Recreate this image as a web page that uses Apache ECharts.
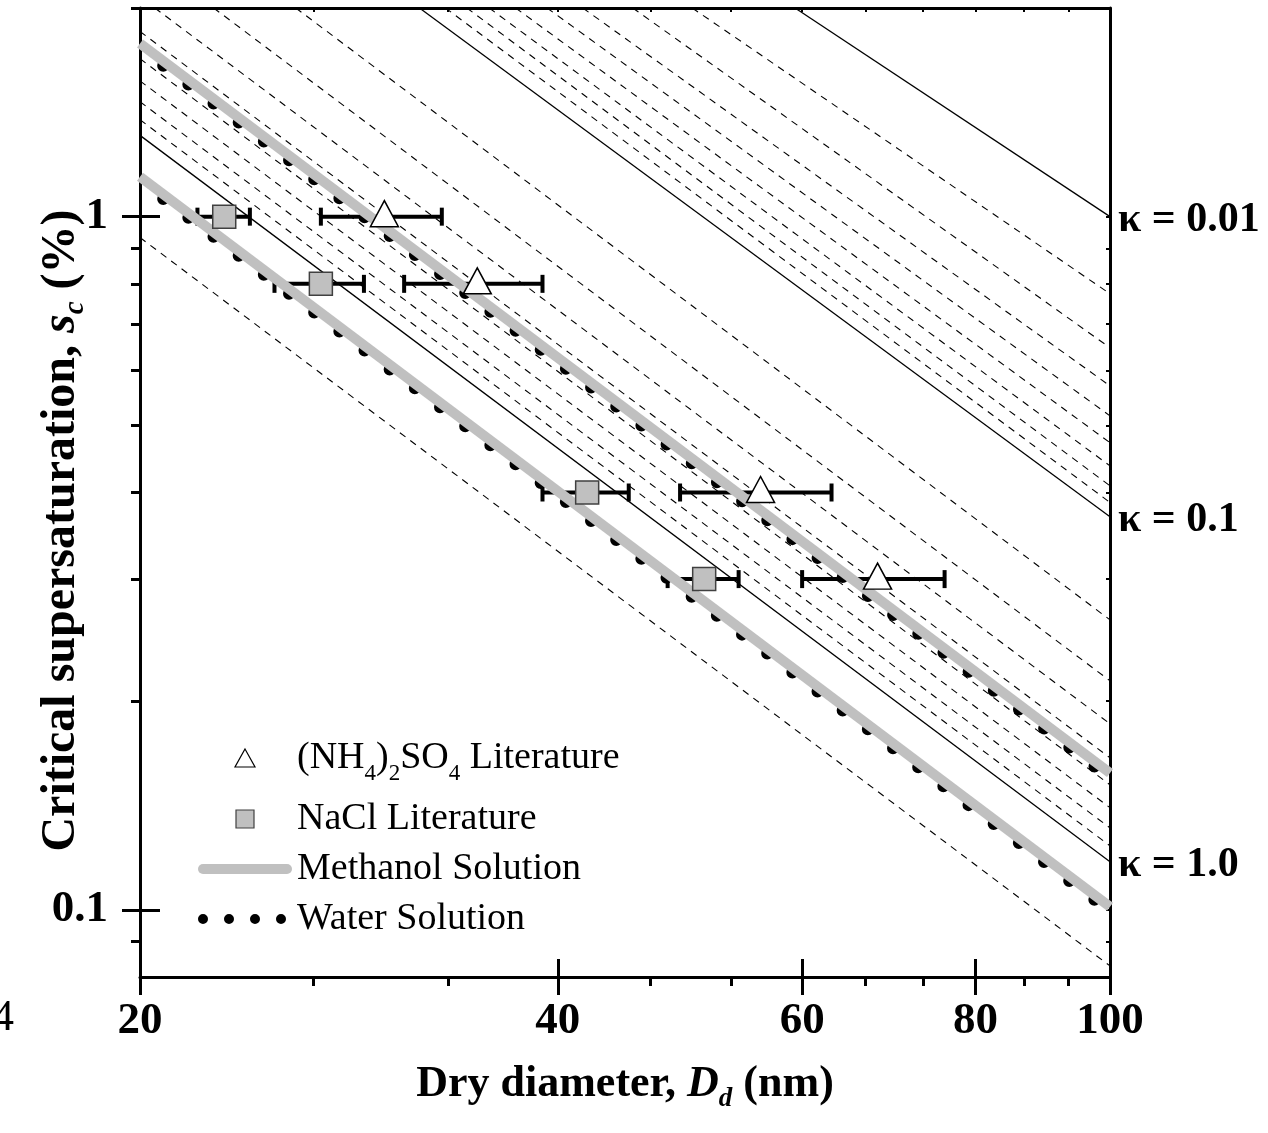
<!DOCTYPE html>
<html>
<head>
<meta charset="utf-8">
<script src="https://cdn.jsdelivr.net/npm/echarts@6/dist/echarts.min.js"></script>
<style>
html,body{margin:0;padding:0;background:#fff;}
#chart{width:1268px;height:1133px;}
</style>
</head>
<body>
<div id="chart"></div>
<script>
// ---------------- data ----------------
const xMajorTicks = [20, 40, 60, 80, 100];
const xMinorTicks = [26.67, 33.33, 46.67, 53.33, 66.67, 73.33, 86.67, 93.33];
const yMajorTicks = [0.1, 1];
const yMinorTicks = [0.09, 0.2, 0.3, 0.4, 0.5, 0.6, 0.7, 0.8, 0.9, 2];

// kappa iso-lines: entry point (top or left edge) and end point (D = 100 nm)
const kappaLabels = ['0.01','0.02','0.03','0.04','0.05','0.06','0.07','0.08','0.09','0.1',
                     '0.2','0.3','0.4','0.5','0.6','0.7','0.8','0.9','1.0','2.0'];
const kappaSolid  = [true,false,false,false,false,false,false,false,false,true,
                     false,false,false,false,false,false,false,false,true,false];
const kappaStartD = [59.3, 50.0, 45.3, 41.7, 39.3, 37.3, 35.7, 34.4, 33.2, 31.8,
                     25.9, 22.6, 20.5, 20, 20, 20, 20, 20, 20, 20];
const kappaStartS = [2, 2, 2, 2, 2, 2, 2, 2, 2, 2,
                     2, 2, 2, 1.85, 1.69, 1.57, 1.465, 1.38, 1.31, 0.933];
const kappaEndD   = [100, 100, 100, 100, 100, 100, 100, 100, 100, 100,
                     100, 100, 100, 100, 100, 100, 100, 100, 100, 100];
const kappaEndS   = [1.0, 0.774, 0.647, 0.570, 0.516, 0.472, 0.437, 0.409, 0.387, 0.369,
                     0.262, 0.214, 0.1855, 0.1657, 0.1515, 0.1404, 0.1313, 0.1237, 0.1173, 0.083];

// solution curves (upper: (NH4)2SO4 , lower: NaCl)
const solD = [20, 100];
const methanolUpperS = [1.777, 0.1576];
const methanolLowerS = [1.142, 0.101];
const waterUpperS    = [1.750, 0.1549];
const waterLowerS    = [1.124, 0.0994];

// literature points
const nh4D   = [30, 35, 56, 68];
const nh4S   = [1.0, 0.8, 0.4, 0.3];
const nh4Err = [3, 4, 7, 8];
const naclD   = [23, 27, 42, 51];
const naclS   = [1.0, 0.8, 0.4, 0.3];
const naclErr = [1, 2, 3, 3];

const nh4Name = '(NH4)2SO4 Literature';
const naclName = 'NaCl Literature';
const methName = 'Methanol Solution';
const waterName = 'Water Solution';

// ---------------- chart ----------------
const FONT = "'Liberation Serif','Times New Roman',serif";
const chart = echarts.init(document.getElementById('chart'), null, {renderer: 'canvas', width: 1268, height: 1133});

function fmt(list) {
  return function (v) {
    let x = v;
    if (list.indexOf(x) < 0) x = +Math.pow(10, v).toPrecision(6);
    return String(x);
  };
}

function baseX(extra) {
  return Object.assign({
    type: 'log', logBase: 10, min: 20, max: 100, gridIndex: 0, silent: true,
    splitLine: {show: false}, minorTick: {show: false},
    axisLine: {show: false, onZero: false},
    axisLabel: {show: false}, axisTick: {show: false}
  }, extra);
}
function baseY(extra) {
  return Object.assign({
    type: 'log', logBase: 10, min: 0.08, max: 2, gridIndex: 0, silent: true,
    splitLine: {show: false}, minorTick: {show: false},
    axisLine: {show: false, onZero: false},
    axisLabel: {show: false}, axisTick: {show: false}
  }, extra);
}
const tickStyle = {color: '#000', width: 3};
const thinTick = {color: '#000', width: 2};

const subStyle = function (size, pad) {
  return {fontFamily: FONT, fontWeight: 'bold', fontStyle: 'italic', fontSize: size, color: '#000', lineHeight: 8, padding: [pad, 0, 0, 0]};
};

const xAxes = [
  baseX({
    position: 'bottom',
    axisLine: {show: true, onZero: false, lineStyle: {color: '#000', width: 3}},
    axisTick: {show: true, customValues: xMajorTicks, length: 18, lineStyle: tickStyle},
    axisLabel: {show: true, customValues: xMajorTicks, formatter: fmt(xMajorTicks), margin: 22,
                color: '#000', fontFamily: FONT, fontWeight: 'bold', fontSize: 45},
    name: 'Dry diameter, {i|D}{sub|d} (nm)',
    nameLocation: 'middle', nameGap: 86, nameMoveOverlap: false,
    nameTextStyle: {color: '#000', fontFamily: FONT, fontWeight: 'bold', fontSize: 44, lineHeight: 44,
      rich: {
        i: {fontFamily: FONT, fontWeight: 'bold', fontStyle: 'italic', fontSize: 44, color: '#000'},
        sub: subStyle(27, 28)
      }}
  }),
  baseX({position: 'bottom', axisTick: {show: true, inside: true, customValues: xMajorTicks, length: 18, lineStyle: tickStyle}}),
  baseX({position: 'bottom', axisTick: {show: true, customValues: xMinorTicks, length: 9, lineStyle: tickStyle}}),
  baseX({position: 'top',
    axisLine: {show: true, onZero: false, lineStyle: {color: '#000', width: 3}},
    axisTick: {show: true, inside: true, customValues: xMajorTicks.concat(xMinorTicks), length: 4, lineStyle: thinTick}})
];

const yAxes = [
  baseY({
    position: 'left',
    axisLine: {show: true, onZero: false, lineStyle: {color: '#000', width: 3}},
    axisTick: {show: true, customValues: yMajorTicks, length: 18, lineStyle: tickStyle},
    axisLabel: {show: true, customValues: yMajorTicks, formatter: fmt(yMajorTicks), margin: 32,
                color: '#000', fontFamily: FONT, fontWeight: 'bold', fontSize: 45},
    name: 'Critical supersaturation, {i|s}{sub|c} (%)',
    nameLocation: 'middle', nameRotate: 90, nameGap: 54, nameMoveOverlap: false,
    nameTextStyle: {color: '#000', fontFamily: FONT, fontWeight: 'bold', fontSize: 48, lineHeight: 48,
      padding: [0, 76, 0, 0],
      rich: {
        i: {fontFamily: FONT, fontWeight: 'bold', fontStyle: 'italic', fontSize: 48, color: '#000'},
        sub: subStyle(29, 28)
      }}
  }),
  baseY({position: 'left', axisTick: {show: true, inside: true, customValues: yMajorTicks, length: 20, lineStyle: tickStyle}}),
  baseY({position: 'left', axisTick: {show: true, customValues: yMinorTicks, length: 9, lineStyle: tickStyle}}),
  baseY({position: 'right',
    axisLine: {show: true, onZero: false, lineStyle: {color: '#000', width: 3}},
    axisTick: {show: true, inside: true, customValues: yMajorTicks.concat(yMinorTicks), length: 4, lineStyle: thinTick}})
];

const series = [];

kappaLabels.forEach(function (k, i) {
  const solid = kappaSolid[i];
  series.push({
    name: 'κ = ' + k, type: 'line', xAxisIndex: 0, yAxisIndex: 0, z: 2, silent: true,
    symbol: 'none', showSymbol: false, clip: true,
    data: [[kappaStartD[i], kappaStartS[i]], [kappaEndD[i], kappaEndS[i]]],
    lineStyle: {color: '#000', width: solid ? 1.3 : 1.1, type: solid ? 'solid' : [7, 6]},
    endLabel: solid ? {show: true, formatter: 'κ = ' + k, distance: 8, offset: [0, 3],
      color: '#000', fontFamily: FONT, fontWeight: 'bold', fontSize: 42} : {show: false},
    emphasis: {disabled: true}
  });
});

function errorBarSeries(name, D, S, E) {
  return {
    type: 'custom', name: name + ' error bars', xAxisIndex: 0, yAxisIndex: 0, z: 3, silent: true,
    data: D.map(function (d, i) { return [d, S[i], E[i]]; }),
    encode: {x: 0, y: 1},
    renderItem: function (params, api) {
      const d = api.value(0), s = api.value(1), e = api.value(2);
      const a = api.coord([d - e, s]), b = api.coord([d + e, s]);
      const h = 9;
      const st = {stroke: '#000', lineWidth: 4, fill: null};
      return {type: 'group', children: [
        {type: 'line', shape: {x1: a[0], y1: a[1], x2: b[0], y2: b[1]}, style: st},
        {type: 'line', shape: {x1: a[0], y1: a[1] - h, x2: a[0], y2: a[1] + h}, style: st},
        {type: 'line', shape: {x1: b[0], y1: b[1] - h, x2: b[0], y2: b[1] + h}, style: st}
      ]};
    }
  };
}
series.push(errorBarSeries('NaCl', naclD, naclS, naclErr));
series.push(errorBarSeries('NH4', nh4D, nh4S, nh4Err));

[waterUpperS, waterLowerS].forEach(function (S) {
  series.push({
    name: waterName, type: 'line', xAxisIndex: 0, yAxisIndex: 0, z: 4, silent: true,
    symbol: 'none', showSymbol: false, color: '#000',
    data: [[solD[0], S[0]], [solD[1], S[1]]],
    lineStyle: {color: '#000', width: 12, type: [0, 31.5], dashOffset: 2.5, cap: 'round'},
    emphasis: {disabled: true}
  });
});
[methanolUpperS, methanolLowerS].forEach(function (S) {
  series.push({
    name: methName, type: 'line', xAxisIndex: 0, yAxisIndex: 0, z: 5, silent: true,
    symbol: 'none', showSymbol: false, color: '#c0c0c0',
    data: [[solD[0], S[0]], [solD[1], S[1]]],
    lineStyle: {color: '#c0c0c0', width: 10},
    emphasis: {disabled: true}
  });
});

series.push({
  name: naclName, type: 'scatter', xAxisIndex: 0, yAxisIndex: 0, z: 6, silent: true,
  symbol: 'rect', symbolSize: 23,
  data: naclD.map(function (d, i) { return [d, naclS[i]]; }),
  itemStyle: {color: '#c0c0c0', borderColor: '#404040', borderWidth: 1.5, opacity: 1}
});
series.push({
  name: nh4Name, type: 'scatter', xAxisIndex: 0, yAxisIndex: 0, z: 6, silent: true,
  symbol: 'triangle', symbolSize: [28, 26], symbolOffset: [0, -3],
  data: nh4D.map(function (d, i) { return [d, nh4S[i]]; }),
  itemStyle: {color: '#ffffff', borderColor: '#000', borderWidth: 1.5, opacity: 1}
});

// legend icons
function dot(cx, cy, r) {
  return 'M' + (cx + r) + ',' + cy + 'A' + r + ',' + r + ',0,1,1,' + (cx - r) + ',' + cy +
         'A' + r + ',' + r + ',0,1,1,' + (cx + r) + ',' + cy + 'Z';
}
const waterIcon = 'path://M0,5L0,5' + dot(5, 5, 5) + dot(31, 5, 5) + dot(57, 5, 5) + dot(83, 5, 5) + 'M94,5L94,5';

const option = {
  animation: false,
  backgroundColor: '#ffffff',
  textStyle: {fontFamily: FONT},
  grid: {left: 140, right: 158, top: 8, bottom: 156, containLabel: false, outerBoundsMode: 'none'},
  xAxis: xAxes,
  yAxis: yAxes,
  legend: {
    show: true, orient: 'vertical', left: 198, top: 728, padding: 0,
    itemWidth: 94, itemHeight: 18, itemGap: 12, selectedMode: false,
    textStyle: {color: '#000', fontFamily: FONT, fontSize: 38, lineHeight: 36,
      rich: {s: {fontFamily: FONT, fontSize: 23, color: '#000', lineHeight: 8, padding: [32, 0, 0, 0]}}},
    formatter: function (name) {
      if (name === nh4Name) return '(NH{s|4}){s|2}SO{s|4} Literature';
      return name;
    },
    data: [
      {name: nh4Name, icon: 'path://M10,0L20,18L0,18Z',
        itemStyle: {color: '#ffffff', borderColor: '#000', borderWidth: 1.2}, textStyle: {lineHeight: 60}},
      {name: naclName, icon: 'path://M0,0L20,0L20,20L0,20Z',
        itemStyle: {color: '#c0c0c0', borderColor: '#404040', borderWidth: 1.2}},
      {name: methName, icon: 'path://M5,0L89,0A5,5,0,0,1,89,10L5,10A5,5,0,0,1,5,0Z',
        itemStyle: {color: '#c0c0c0', borderWidth: 0}},
      {name: waterName, icon: waterIcon,
        itemStyle: {color: '#000', borderWidth: 0}}
    ]
  },
  graphic: [
    {type: 'text', left: -8, top: 996, silent: true,
      style: {text: '4', fill: '#000', font: "44px 'Liberation Serif'"}}
  ],
  series: series
};
chart.setOption(option);
</script>
</body>
</html>
